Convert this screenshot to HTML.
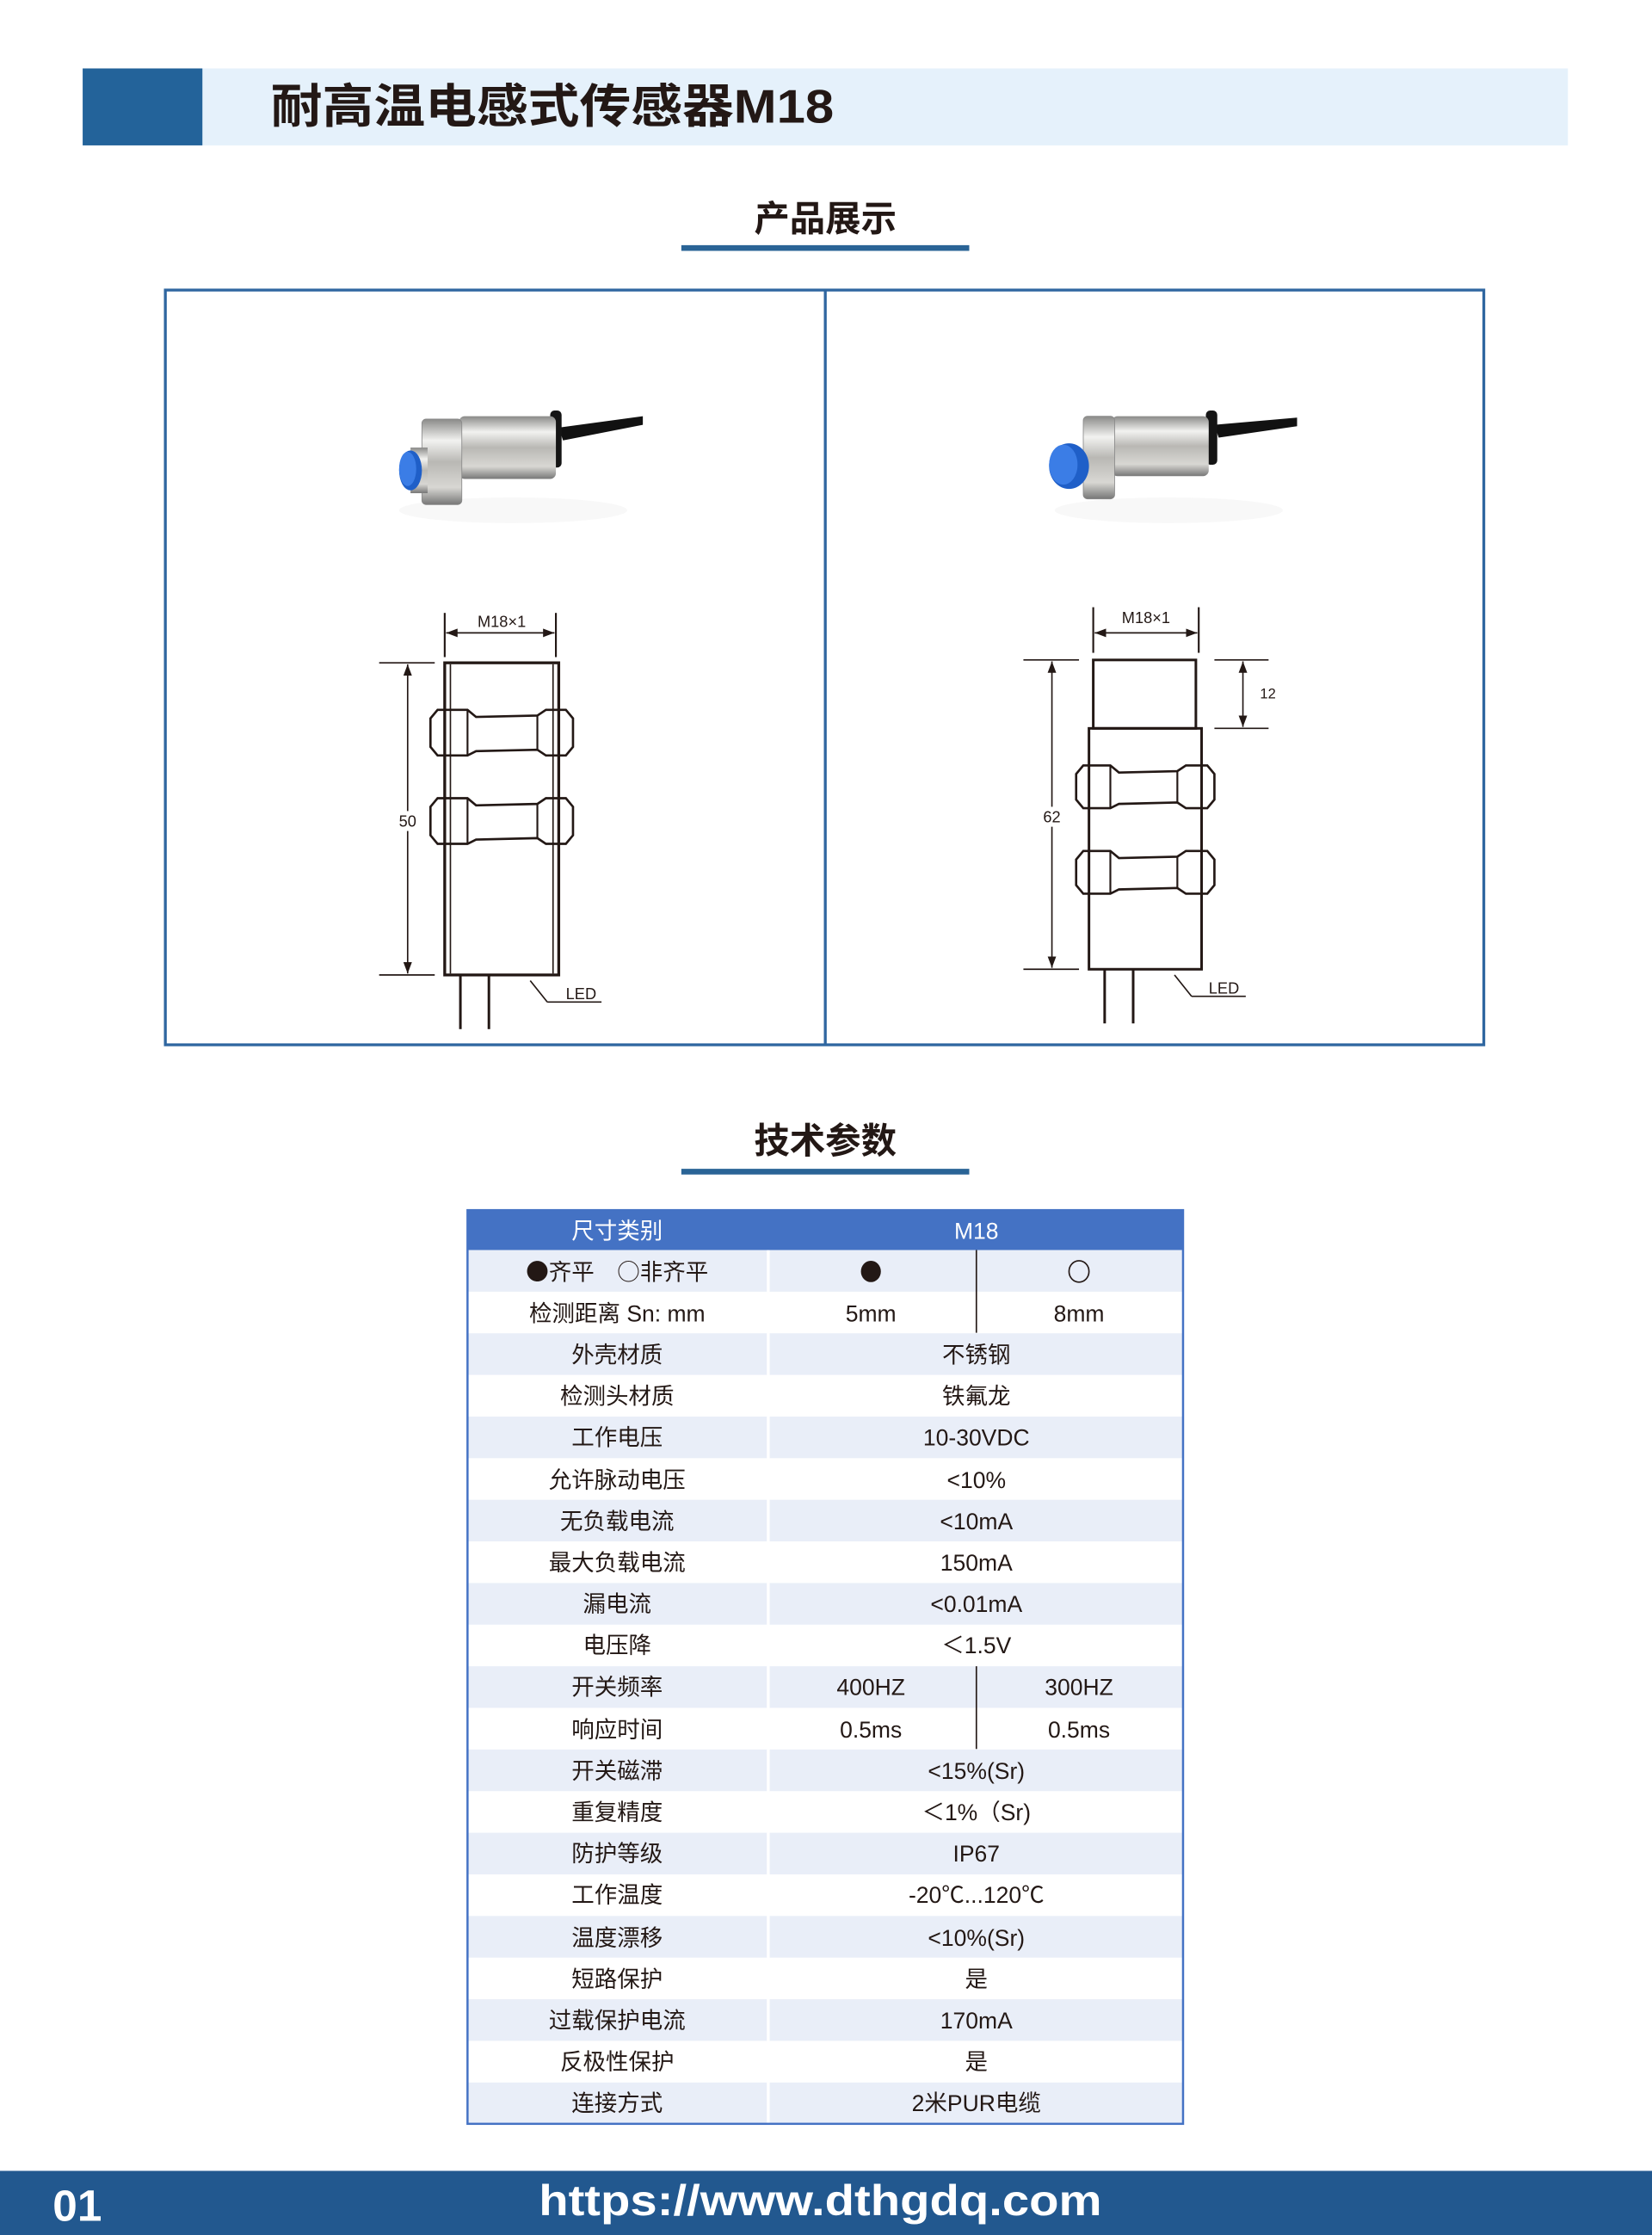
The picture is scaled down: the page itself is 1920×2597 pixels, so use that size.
<!DOCTYPE html>
<html><head><meta charset="utf-8"><style>
html,body{margin:0;padding:0;background:#fff;}
svg{display:block;}
text{font-family:"Liberation Sans","Noto Sans CJK SC",sans-serif;}
</style></head><body>
<svg width="1920" height="2597" viewBox="0 0 1159 1568" preserveAspectRatio="none" xmlns="http://www.w3.org/2000/svg">
<defs>
<linearGradient id="met" x1="0" y1="0" x2="0" y2="1">
<stop offset="0" stop-color="#8a8a88"/><stop offset="0.25" stop-color="#f2f2f0"/><stop offset="0.5" stop-color="#b9b8b4"/><stop offset="0.8" stop-color="#d8d7d3"/><stop offset="1" stop-color="#777"/>
</linearGradient>
<marker id="ar" markerWidth="8" markerHeight="6" refX="8" refY="3" orient="auto-start-reverse" markerUnits="userSpaceOnUse"><path d="M0,0 L8,3 L0,6 Z" fill="#231815"/></marker>
</defs>
<!-- header -->
<rect x="58" y="48" width="1042" height="54" fill="#e5f1fb"/>
<rect x="58" y="48" width="84" height="54" fill="#23639a"/>
<text x="190" y="86" font-size="33" font-weight="bold" fill="#231815" textLength="395" lengthAdjust="spacingAndGlyphs">耐高温电感式传感器M18</text>
<text x="579" y="162" font-size="25" font-weight="bold" fill="#231815" text-anchor="middle">产品展示</text>
<rect x="478" y="172" width="202" height="4" fill="#2a6496"/>
<!-- product box -->
<rect x="116" y="203.5" width="925" height="529.5" fill="none" stroke="#2f66a0" stroke-width="2"/>
<line x1="579" y1="203" x2="579" y2="733" stroke="#2f66a0" stroke-width="2"/>

<!-- left photo -->
<g>
<ellipse cx="360" cy="358" rx="80" ry="9" fill="#f3f3f3" opacity="0.6"/>
<path d="M392,300 L451,292 L451,298 L395,309 Z" fill="#111"/>
<rect x="386" y="288" width="8" height="40" rx="3" fill="#151515"/>
<rect x="322" y="292" width="68" height="44" rx="4" fill="url(#met)"/>
<rect x="296" y="294" width="28" height="60" rx="3" fill="url(#met)" stroke="#888" stroke-width="0.5"/>
<rect x="288" y="314" width="12" height="32" fill="url(#met)"/>
<ellipse cx="288" cy="330" rx="8" ry="14" fill="#1f5fc8"/>
<ellipse cx="286" cy="329" rx="6" ry="12" fill="#3b7de6"/>
</g>
<!-- right photo -->
<g>
<ellipse cx="820" cy="358" rx="80" ry="9" fill="#f3f3f3" opacity="0.6"/>
<path d="M852,298 L910,293 L910,299 L855,307 Z" fill="#111"/>
<rect x="846" y="288" width="8" height="38" rx="3" fill="#151515"/>
<rect x="780" y="292" width="68" height="42" rx="4" fill="url(#met)"/>
<rect x="760" y="292" width="22" height="58" rx="3" fill="url(#met)" stroke="#888" stroke-width="0.5"/>
<ellipse cx="750" cy="327" rx="14" ry="16" fill="#1f5fc8"/>
<ellipse cx="746" cy="326" rx="10" ry="14" fill="#3b7de6"/>
</g>

<!-- left drawing -->
<g stroke="#231815" fill="none" stroke-width="1.3">
<line x1="312" y1="430" x2="312" y2="461"/><line x1="390" y1="430" x2="390" y2="461"/>
<line x1="313" y1="444" x2="389" y2="444" marker-start="url(#ar)" marker-end="url(#ar)" stroke-width="1"/>
<rect x="312" y="465" width="80" height="219" stroke-width="2"/>
<line x1="316" y1="466" x2="316" y2="683" stroke-width="1"/><line x1="388" y1="466" x2="388" y2="683" stroke-width="1"/>
<path d="M307,498 L328,498 L334,503 L377,502 L383,498 L397,498 L402,504 L402,524 L397,530 L383,530 L377,526 L334,527 L328,530 L307,530 L302,524 L302,504 Z" stroke-width="1.6"/>
<line x1="328" y1="498" x2="328" y2="530"/><line x1="377" y1="502" x2="377" y2="526"/>
<path d="M307,560 L328,560 L334,565 L377,564 L383,560 L397,560 L402,566 L402,586 L397,592 L383,592 L377,588 L334,589 L328,592 L307,592 L302,586 L302,566 Z" stroke-width="1.6"/>
<line x1="328" y1="560" x2="328" y2="592"/><line x1="377" y1="564" x2="377" y2="588"/>
<line x1="266" y1="465" x2="305" y2="465" stroke-width="1"/><line x1="266" y1="684" x2="305" y2="684" stroke-width="1"/>
<line x1="286" y1="466" x2="286" y2="683" marker-start="url(#ar)" marker-end="url(#ar)" stroke-width="1"/>
<line x1="323" y1="684" x2="323" y2="722" stroke-width="1.8"/><line x1="343" y1="684" x2="343" y2="722" stroke-width="1.8"/>
<line x1="372" y1="688" x2="384" y2="703" stroke-width="1"/><line x1="384" y1="703" x2="422" y2="703" stroke-width="1"/>
</g>
<rect x="277" y="569" width="18" height="14" fill="#fff"/>
<text x="286" y="580" font-size="11" text-anchor="middle" fill="#231815">50</text>
<text x="352" y="440" font-size="11" text-anchor="middle" fill="#231815">M18×1</text>
<text x="397" y="701" font-size="11" fill="#231815">LED</text>

<!-- right drawing -->
<g stroke="#231815" fill="none" stroke-width="1.3">
<line x1="767" y1="426" x2="767" y2="458"/><line x1="841" y1="426" x2="841" y2="458"/>
<line x1="768" y1="444" x2="840" y2="444" marker-start="url(#ar)" marker-end="url(#ar)" stroke-width="1"/>
<rect x="767" y="463" width="72" height="48" stroke-width="1.8"/>
<rect x="764" y="511" width="79" height="169" stroke-width="1.8"/>
<path d="M760,537 L779,537 L785,542 L826,541 L832,537 L847,537 L852,543 L852,561 L847,567 L832,567 L826,563 L785,564 L779,567 L760,567 L755,561 L755,543 Z" stroke-width="1.6"/>
<line x1="779" y1="537" x2="779" y2="567"/><line x1="826" y1="541" x2="826" y2="563"/>
<path d="M760,597 L779,597 L785,602 L826,601 L832,597 L847,597 L852,603 L852,621 L847,627 L832,627 L826,623 L785,624 L779,627 L760,627 L755,621 L755,603 Z" stroke-width="1.6"/>
<line x1="779" y1="597" x2="779" y2="627"/><line x1="826" y1="601" x2="826" y2="623"/>
<line x1="718" y1="463" x2="757" y2="463" stroke-width="1"/><line x1="718" y1="680" x2="757" y2="680" stroke-width="1"/>
<line x1="738" y1="464" x2="738" y2="679" marker-start="url(#ar)" marker-end="url(#ar)" stroke-width="1"/>
<line x1="852" y1="463" x2="890" y2="463" stroke-width="1"/><line x1="852" y1="511" x2="890" y2="511" stroke-width="1"/>
<line x1="872" y1="464" x2="872" y2="510" marker-start="url(#ar)" marker-end="url(#ar)" stroke-width="1"/>
<line x1="775" y1="680" x2="775" y2="718" stroke-width="1.8"/><line x1="795" y1="680" x2="795" y2="718" stroke-width="1.8"/>
<line x1="824" y1="684" x2="836" y2="699" stroke-width="1"/><line x1="836" y1="699" x2="874" y2="699" stroke-width="1"/>
</g>
<rect x="729" y="566" width="18" height="14" fill="#fff"/>
<text x="738" y="577" font-size="11" text-anchor="middle" fill="#231815">62</text>
<text x="884" y="490" font-size="10" fill="#231815">12</text>
<text x="804" y="437" font-size="11" text-anchor="middle" fill="#231815">M18×1</text>
<text x="848" y="697" font-size="11" fill="#231815">LED</text>

<!-- tech params -->
<text x="579" y="809" font-size="25" font-weight="bold" fill="#231815" text-anchor="middle">技术参数</text>
<rect x="478" y="820" width="202" height="4" fill="#2a6496"/>

<g font-size="16" fill="#231815" text-anchor="middle">
<rect x="328" y="849" width="502" height="28" fill="#4472c4"/>
<text x="433" y="869" fill="#fff">尺寸类别</text>
<text x="685" y="869" fill="#fff">M18</text>
<rect x="328" y="877.0" width="502" height="29.2" fill="#e9eef8"/>
<rect x="328" y="935.4" width="502" height="29.2" fill="#e9eef8"/>
<rect x="328" y="993.8" width="502" height="29.2" fill="#e9eef8"/>
<rect x="328" y="1052.2" width="502" height="29.2" fill="#e9eef8"/>
<rect x="328" y="1110.6" width="502" height="29.2" fill="#e9eef8"/>
<rect x="328" y="1169.0" width="502" height="29.2" fill="#e9eef8"/>
<rect x="328" y="1227.4" width="502" height="29.2" fill="#e9eef8"/>
<rect x="328" y="1285.8" width="502" height="29.2" fill="#e9eef8"/>
<rect x="328" y="1344.2" width="502" height="29.2" fill="#e9eef8"/>
<rect x="328" y="1402.6" width="502" height="29.2" fill="#e9eef8"/>
<rect x="328" y="1461.0" width="502" height="29.2" fill="#e9eef8"/>
<line x1="539" y1="877" x2="539" y2="1490" stroke="#fff" stroke-width="2"/>
<line x1="685" y1="877" x2="685" y2="935" stroke="#231815" stroke-width="1"/>
<line x1="685" y1="1169" x2="685" y2="1227" stroke="#231815" stroke-width="1"/>
<rect x="328" y="849" width="502" height="641" fill="none" stroke="#4472c4" stroke-width="1.5"/>

<text x="433" y="898" style="font-family:'Noto Sans CJK SC',sans-serif">●齐平　○非齐平</text>
<ellipse cx="611" cy="892" rx="7" ry="7.5" fill="#231815"/>
<ellipse cx="757" cy="892" rx="7" ry="7.5" fill="none" stroke="#231815" stroke-width="1"/>
<text x="433" y="927">检测距离 Sn: mm</text><text x="611" y="927">5mm</text><text x="757" y="927">8mm</text>
<text x="433" y="956">外壳材质</text><text x="685" y="956">不锈钢</text>
<text x="433" y="985">检测头材质</text><text x="685" y="985">铁氟龙</text>
<text x="433" y="1014">工作电压</text><text x="685" y="1014">10-30VDC</text>
<text x="433" y="1044">允许脉动电压</text><text x="685" y="1044">&lt;10%</text>
<text x="433" y="1073">无负载电流</text><text x="685" y="1073">&lt;10mA</text>
<text x="433" y="1102">最大负载电流</text><text x="685" y="1102">150mA</text>
<text x="433" y="1131">漏电流</text><text x="685" y="1131">&lt;0.01mA</text>
<text x="433" y="1160">电压降</text><text x="685" y="1160">＜1.5V</text>
<text x="433" y="1189">开关频率</text><text x="611" y="1189">400HZ</text><text x="757" y="1189">300HZ</text>
<text x="433" y="1219">响应时间</text><text x="611" y="1219">0.5ms</text><text x="757" y="1219">0.5ms</text>
<text x="433" y="1248">开关磁滞</text><text x="685" y="1248">&lt;15%(Sr)</text>
<text x="433" y="1277">重复精度</text><text x="685" y="1277">＜1%（Sr)</text>
<text x="433" y="1306">防护等级</text><text x="685" y="1306">IP67</text>
<text x="433" y="1335">工作温度</text><text x="685" y="1335">-20℃...120℃</text>
<text x="433" y="1365">温度漂移</text><text x="685" y="1365">&lt;10%(Sr)</text>
<text x="433" y="1394">短路保护</text><text x="685" y="1394">是</text>
<text x="433" y="1423">过载保护电流</text><text x="685" y="1423">170mA</text>
<text x="433" y="1452">反极性保护</text><text x="685" y="1452">是</text>
<text x="433" y="1481">连接方式</text><text x="685" y="1481">2米PUR电缆</text>
</g>

<!-- footer -->
<rect x="0" y="1523" width="1159" height="45" fill="#22588f"/>
<text x="37" y="1558" font-size="31" font-weight="bold" fill="#fff">01</text>
<text x="378" y="1554" font-size="30" font-weight="bold" fill="#fff" textLength="395" lengthAdjust="spacingAndGlyphs">https://www.dthgdq.com</text>
</svg>
</body></html>
